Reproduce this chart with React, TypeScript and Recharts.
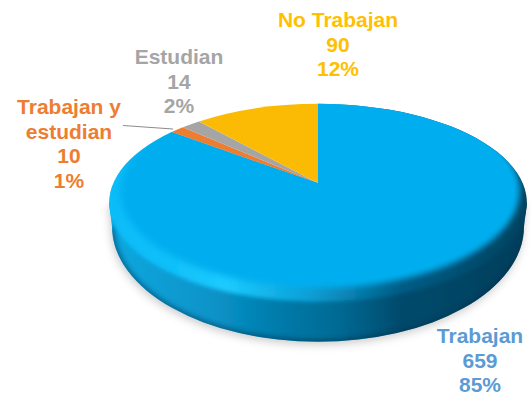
import React from "react"
import { PieChart, Pie } from "recharts"

const categories = ["Trabajan", "Trabajan y estudian", "Estudian", "No Trabajan"]
const counts = [659, 10, 14, 90]
const sliceColors = ["#00AEEF", "#ED7D31", "#A5A5A5", "#FBBB05"]
const labelColors = ["#5B9BD5", "#ED7D31", "#A5A5A5", "#FFC000"]
// Names broken the same way as the reference
const labelNameLines = [["Trabajan"], ["Trabajan y", "estudian"], ["Estudian"], ["No Trabajan"]]

const tableData = categories.map((name, i) => ({ name, value: counts[i], fill: sliceColors[i] }))

// Layout of the labels, centre x and first baseline
const LABEL_ANCHORS = [
  { x: 480, y: 343 },
  { x: 69, y: 114 },
  { x: 179, y: 64 },
  { x: 338, y: 27 },
]
const LINE_HEIGHT = 24.6

// Perspective of the disc: the apex sits above the centre of the rim ellipse
const TILT = 0.2
const WIDTH_RATIO = 2.11

// Underside of the disc, it shrinks a little with distance
const BASE = { rx: 206, ry: 115, dy: 24 }

const project = (cx: number, cy: number, r: number, angle: number) => {
  const t = (angle * Math.PI) / 180
  const u = Math.cos(t)
  const v = Math.sin(t)
  const w = 1 + TILT * v
  return {
    x: cx + r * WIDTH_RATIO * ((u * Math.sqrt(1 - TILT * TILT)) / w),
    y: cy + TILT * r - r * ((v + TILT) / w),
  }
}

function DiscSlice(props: any) {
  const { cx, cy, outerRadius: r, startAngle, endAngle, fill, index } = props
  const rx = r * WIDTH_RATIO
  const p0 = project(cx, cy, r, startAngle)
  const p1 = project(cx, cy, r, endAngle)
  const large = Math.abs(endAngle - startAngle) > 180 ? 1 : 0
  const top = `M${cx},${cy} L${p0.x},${p0.y} A${rx},${r} 0 ${large} 1 ${p1.x},${p1.y} Z`

  // Only the large slice reaches the front of the disc
  if (!large) return <path d={top} fill={fill} />

  const midY = cy + TILT * r
  const baseY = midY + BASE.dy
  const baseLeft = cx - BASE.rx
  const baseRight = cx + BASE.rx
  const wall = `M${cx - rx},${midY} L${baseLeft},${baseY} A${BASE.rx},${BASE.ry} 0 0 0 ${baseRight},${baseY} L${cx + rx},${midY} Z`
  const wallEdge = `M${baseLeft},${baseY} A${BASE.rx},${BASE.ry} 0 0 0 ${baseRight},${baseY}`

  return (
    <g key={index}>
      <clipPath id="wallClip">
        <path d={wall} />
      </clipPath>
      <clipPath id="topClip">
        <path d={top} />
      </clipPath>
      <clipPath id="backClip">
        <rect x={0} y={0} width={531} height={midY + 16} />
      </clipPath>
      <path d={wall} fill="url(#wallFill)" filter="url(#discShadow)" />
      <path d={wallEdge} fill="none" stroke="#02304A" strokeWidth={5} strokeOpacity={0.55} filter="url(#soft)" clipPath="url(#wallClip)" />
      {/* soft seam between rim and wall at the front, crisp edge at the back */}
      <g clipPath="url(#wallClip)">
        <path d={top} fill="url(#rimFill)" filter="url(#seam)" />
      </g>
      <g clipPath="url(#backClip)">
        <path d={top} fill="url(#rimFill)" />
      </g>
      <g clipPath="url(#topClip)">
        <ellipse cx={cx + 2} cy={midY - 12} rx={rx - 9} ry={r - 2} fill={fill} filter="url(#bevel)" />
      </g>
    </g>
  )
}

function SliceLabel(props: any) {
  const { index, value, percent } = props
  const anchor = LABEL_ANCHORS[index]
  const lines = [...labelNameLines[index], String(value), `${Math.round(percent * 100)}%`]
  return (
    <text
      x={anchor.x}
      y={anchor.y}
      textAnchor="middle"
      fill={labelColors[index]}
      fontFamily="Liberation Sans"
      fontWeight="bold"
      fontSize={21}
    >
      {lines.map((line, i) => (
        <tspan key={i} x={anchor.x} dy={i === 0 ? 0 : LINE_HEIGHT}>
          {line}
        </tspan>
      ))}
    </text>
  )
}

export default function App() {
  return (
    <div style={{ position: "absolute", left: 0, top: 0, width: 531, height: 395, background: "#fff" }}>
      <PieChart width={531} height={395} margin={{ top: 0, right: 0, bottom: 0, left: 0 }}>
        <defs>
          <linearGradient id="wallFill" x1="0" y1="0" x2="1" y2="0">
            <stop offset="0" stopColor="#0CA8E0" />
            <stop offset="0.25" stopColor="#0893C8" />
            <stop offset="0.42" stopColor="#0379A8" />
            <stop offset="0.55" stopColor="#036A94" />
            <stop offset="0.7" stopColor="#034A6C" />
            <stop offset="1" stopColor="#033F5C" />
          </linearGradient>
          <linearGradient id="rimFill" gradientUnits="userSpaceOnUse" x1="109" y1="0" x2="527" y2="0">
            <stop offset="0" stopColor="#0ABCF8" />
            <stop offset="0.15" stopColor="#10C0FA" />
            <stop offset="0.28" stopColor="#1CCBFF" />
            <stop offset="0.48" stopColor="#0A9FD5" />
            <stop offset="0.7" stopColor="#035C85" />
            <stop offset="1" stopColor="#03425F" />
          </linearGradient>
          <filter id="bevel" x="-5%" y="-10%" width="110%" height="120%">
            <feGaussianBlur stdDeviation="3" />
          </filter>
          <filter id="soft" x="-5%" y="-20%" width="110%" height="140%">
            <feGaussianBlur stdDeviation="2.5" />
          </filter>
          <filter id="seam" x="-5%" y="-10%" width="110%" height="120%">
            <feGaussianBlur stdDeviation="2" />
          </filter>
          <filter id="discShadow" x="-5%" y="-10%" width="110%" height="130%">
            <feDropShadow dx="-1" dy="3" stdDeviation="4" floodColor="#000" floodOpacity="0.2" />
          </filter>
        </defs>
        <Pie
          data={tableData}
          dataKey="value"
          nameKey="name"
          cx={318}
          cy={183}
          innerRadius={0}
          outerRadius={99}
          startAngle={90}
          endAngle={-270}
          stroke="none"
          shape={DiscSlice}
          label={SliceLabel}
          labelLine={false}
          isAnimationActive={false}
        />
        <line x1={123} y1={125.5} x2={173} y2={129} stroke="#8C8C8C" strokeWidth={1.2} />
      </PieChart>
    </div>
  )
}
